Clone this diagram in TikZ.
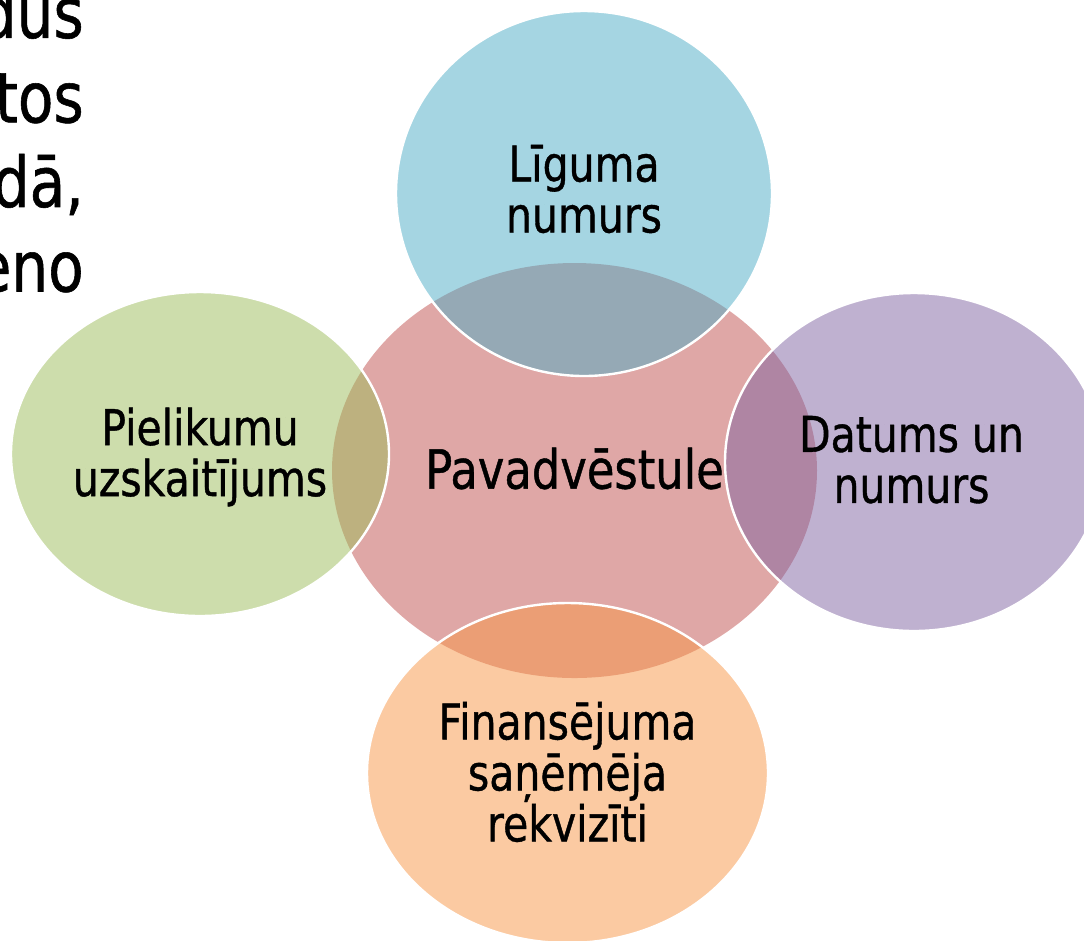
\documentclass[tikz,border=0pt]{standalone}
\usepackage{fontspec}
\setmainfont{DejaVu Sans}[FakeStretch=0.83, FakeBold=0.8]
\usetikzlibrary{shapes.geometric}
\definecolor{accRed}{HTML}{C0504D}
\definecolor{accGreen}{HTML}{9BBB59}
\definecolor{accPurple}{HTML}{8064A2}
\definecolor{accAqua}{HTML}{4BACC6}
\definecolor{accOrange}{HTML}{F79646}
\tikzset{
  bubble/.style={ellipse, inner sep=0pt, outer sep=0pt, fill opacity=0.5},
  hubbubble/.style={bubble, draw=none},
  satbubble/.style={bubble, draw=white, draw opacity=1, line width=1.8pt},
  lbl/.style={align=center, inner sep=0pt, text=black, font=\fontsize{37}{38.25}\selectfont},
  hublbl/.style={align=center, inner sep=0pt, text=black, font=\fontsize{40.5}{44}\selectfont},
  sidetext/.style={align=right, inner sep=0pt, text=black, font=\fontsize{52.5}{63.4}\selectfont}
}
\begin{document}
\begin{tikzpicture}[x=0.75pt, y=-0.75pt]
\useasboundingbox (0,0) rectangle (1084,940);
\clip (0,0) rectangle (1084,940);

% cut-off text at the top left
\node[sidetext, anchor=east] (side) at (84,138.6) {dus\\tos\\dā,\\eno};

% central bubble
\node[hubbubble, fill=accRed, minimum width=363.75pt, minimum height=311.25pt] (hub) at (574.5,470.5) {};

% satellite bubbles
\node[satbubble, fill=accAqua, minimum width=282pt, minimum height=273.75pt] (top) at (584,193.5) {};
\node[satbubble, fill=accPurple, minimum width=283.5pt, minimum height=253.5pt] (right) at (914,462) {};
\node[satbubble, fill=accOrange, minimum width=300.75pt, minimum height=255pt] (bottom) at (567.5,773) {};
\node[satbubble, fill=accGreen, minimum width=283.5pt, minimum height=243pt] (left) at (200,454) {};

% labels
\node[hublbl] (hubtext) at (574.5,468.5) {Pavadvēstule};
\node[lbl] (toptext) at (584,189) {Līguma\\numurs};
\node[lbl] (righttext) at (911.5,459.7) {Datums un\\numurs};
\node[lbl] (bottomtext) at (567.5,772) {Finansējuma\\saņēmēja\\rekvizīti};
\node[lbl] (lefttext) at (200,457) {Pielikumu\\uzskaitījums};
\end{tikzpicture}
\end{document}
